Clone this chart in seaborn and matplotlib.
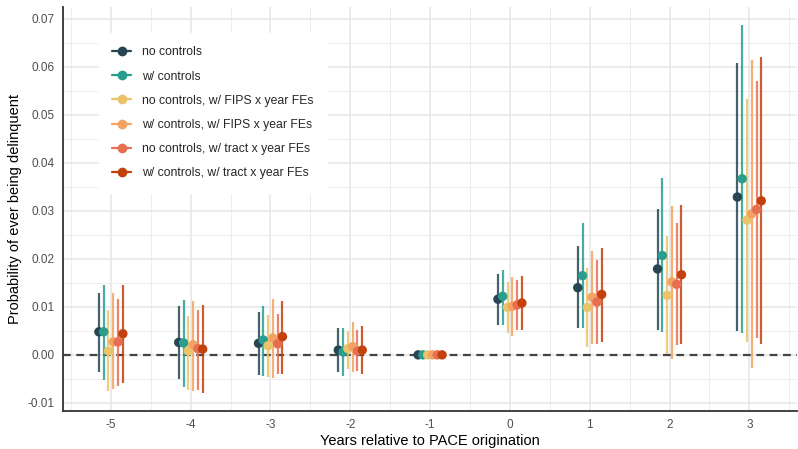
import numpy as np
import pandas as pd
import matplotlib
matplotlib.use("Agg")
import matplotlib.pyplot as plt
from matplotlib.lines import Line2D
import seaborn as sns

# event-study estimates
years = [-5, -4, -3, -2, -1, 0, 1, 2, 3]
specs = [
    "no controls",
    "w/ controls",
    "no controls, w/ FIPS x year FEs",
    "w/ controls, w/ FIPS x year FEs",
    "no controls, w/ tract x year FEs",
    "w/ controls, w/ tract x year FEs",
]
colors = ["#264653", "#2a9d8f", "#e9c46a", "#f4a261", "#e76f51", "#c2410c"]

est_no_ctrl = [0.0048, 0.0026, 0.0024, 0.0010, 0.0, 0.0116, 0.0140, 0.0179, 0.0329]
lo_no_ctrl = [-0.0035, -0.0050, -0.0041, -0.0035, 0.0, 0.0063, 0.0055, 0.0052, 0.0049]
hi_no_ctrl = [0.0129, 0.0102, 0.0090, 0.0055, 0.0, 0.0169, 0.0226, 0.0304, 0.0608]

est_ctrl = [0.0048, 0.0025, 0.0031, 0.0006, 0.0, 0.0122, 0.0165, 0.0207, 0.0367]
lo_ctrl = [-0.0052, -0.0067, -0.0044, -0.0045, 0.0, 0.0062, 0.0055, 0.0048, 0.0046]
hi_ctrl = [0.0146, 0.0115, 0.0102, 0.0056, 0.0, 0.0177, 0.0274, 0.0368, 0.0688]

est_no_fips = [0.0008, 0.0008, 0.0019, 0.0013, 0.0, 0.0099, 0.0099, 0.0124, 0.0281]
lo_no_fips = [-0.0075, -0.0073, -0.0046, -0.0030, 0.0, 0.0046, 0.0017, 0.0002, 0.0027]
hi_no_fips = [0.0094, 0.0080, 0.0083, 0.0050, 0.0, 0.0151, 0.0180, 0.0247, 0.0534]

est_ctrl_fips = [0.0027, 0.0021, 0.0035, 0.0017, 0.0, 0.0101, 0.0120, 0.0152, 0.0294]
lo_ctrl_fips = [-0.0071, -0.0075, -0.0049, -0.0035, 0.0, 0.0040, 0.0022, -0.0008, -0.0027]
hi_ctrl_fips = [0.0129, 0.0113, 0.0117, 0.0069, 0.0, 0.0163, 0.0217, 0.0310, 0.0615]

est_no_tract = [0.0027, 0.0013, 0.0023, 0.0008, 0.0, 0.0104, 0.0110, 0.0147, 0.0303]
lo_no_tract = [-0.0065, -0.0073, -0.0040, -0.0034, 0.0, 0.0052, 0.0023, 0.0020, 0.0035]
hi_no_tract = [0.0117, 0.0094, 0.0085, 0.0052, 0.0, 0.0155, 0.0198, 0.0274, 0.0571]

est_ctrl_tract = [0.0044, 0.0012, 0.0038, 0.0010, 0.0, 0.0108, 0.0126, 0.0167, 0.0321]
lo_ctrl_tract = [-0.0058, -0.0079, -0.0040, -0.0040, 0.0, 0.0051, 0.0027, 0.0022, 0.0022]
hi_ctrl_tract = [0.0146, 0.0104, 0.0113, 0.0060, 0.0, 0.0165, 0.0223, 0.0312, 0.0620]

estimates = [est_no_ctrl, est_ctrl, est_no_fips, est_ctrl_fips, est_no_tract, est_ctrl_tract]
lows = [lo_no_ctrl, lo_ctrl, lo_no_fips, lo_ctrl_fips, lo_no_tract, lo_ctrl_tract]
highs = [hi_no_ctrl, hi_ctrl, hi_no_fips, hi_ctrl_fips, hi_no_tract, hi_ctrl_tract]

# long-form table, dodge each spec around the year
rows = []
offsets = np.linspace(-0.15, 0.15, len(specs))
for i, spec in enumerate(specs):
    for j, yr in enumerate(years):
        rows.append({"year": yr, "x": yr + offsets[i], "spec": spec,
                     "est": estimates[i][j], "lo": lows[i][j], "hi": highs[i][j]})
df = pd.DataFrame(rows)

sns.set_theme(style="whitegrid")
plt.rcParams["font.family"] = ["Liberation Sans", "DejaVu Sans"]

fig, ax = plt.subplots(figsize=(7.98, 4.49), dpi=100)
fig.subplots_adjust(left=63 / 798, right=0.999, bottom=1 - 411 / 449, top=1 - 7 / 449)

ax.axhline(0, color="#444444", lw=1.6, ls=(0, (3.5, 2.5)), zorder=1)

for i, spec in enumerate(specs):
    sub = df[(df["spec"] == spec) & (df["year"] != -1)]
    ax.vlines(sub["x"], sub["lo"], sub["hi"], color=colors[i], lw=1.6, alpha=0.85, zorder=2)

sns.scatterplot(data=df, x="x", y="est", hue="spec", hue_order=specs,
                palette=colors, s=46, edgecolor="none", legend=False, ax=ax, zorder=3)

ax.set_xlim(-5.6, 3.6)
ax.set_ylim(-0.0117, 0.0725)
ax.set_xticks(years)
ax.set_xticklabels([str(y) for y in years])
ax.set_yticks(np.arange(-0.01, 0.0701, 0.01))
ax.set_yticklabels([f"{v:.2f}" for v in np.arange(-0.01, 0.0701, 0.01)])
ax.set_xticks(np.arange(-5.5, 3.6, 1.0), minor=True)
ax.set_yticks(np.arange(-0.005, 0.0726, 0.01), minor=True)

ax.grid(which="major", color="#e6e6e6", lw=1.1)
ax.grid(which="minor", color="#ededed", lw=0.8)
ax.set_axisbelow(True)

for side in ["top", "right"]:
    ax.spines[side].set_visible(False)
for side in ["left", "bottom"]:
    ax.spines[side].set_visible(True)
    ax.spines[side].set_color("#333333")
    ax.spines[side].set_linewidth(1.3)

ax.tick_params(axis="both", which="major", length=3, width=0.8, color="#333333",
               labelsize=8.5, labelcolor="#4d4d4d", pad=3)
ax.tick_params(axis="both", which="minor", length=0)

ax.set_xlabel("Years relative to PACE origination", fontsize=10.5, color="black", labelpad=2)
ax.set_ylabel("Probability of ever being delinquent", fontsize=10.5, color="black", labelpad=4)

handles = [Line2D([0], [0], color=c, lw=1.6, marker="o", markersize=6) for c in colors]
leg = ax.legend(handles, specs, loc="upper left", bbox_to_anchor=(0.049, 0.936),
                frameon=True, fontsize=8.8, handlelength=1.5, labelspacing=1.0,
                borderpad=1.1, handletextpad=0.9, borderaxespad=0)
leg.get_frame().set_facecolor("white")
leg.get_frame().set_edgecolor("white")
leg.get_frame().set_alpha(1.0)
leg.get_frame().set_boxstyle("square", pad=0)

fig.savefig("out.png", dpi=100)
